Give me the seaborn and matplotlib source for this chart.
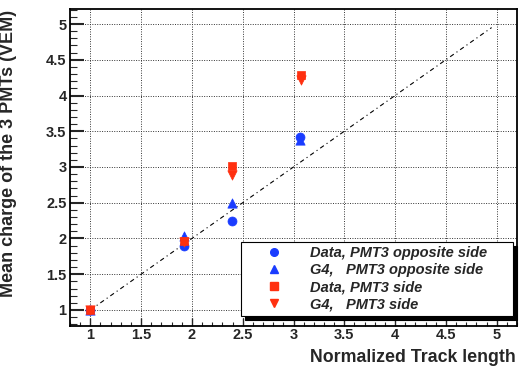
import numpy as np
import pandas as pd
import matplotlib
matplotlib.use("Agg")
import matplotlib.pyplot as plt
import seaborn as sns
from matplotlib.ticker import MultipleLocator

# data
track_len = [1.0, 1.92, 2.39, 3.06]
track_len_side = [1.0, 1.92, 2.39, 3.07]
data_opp = [1.0, 1.89, 2.25, 3.42]
g4_opp = [1.0, 2.03, 2.49, 3.38]
data_side = [1.0, 1.97, 3.02, 4.29]
g4_side = [1.0, 1.95, 2.89, 4.21]
ref_line_x = [1.0, 4.95]
ref_line_y = [1.0, 4.95]
tick_vals = [1, 1.5, 2, 2.5, 3, 3.5, 4, 4.5, 5]
tick_labels = ['1', '1.5', '2', '2.5', '3', '3.5', '4', '4.5', '5']

labels = ["Data, PMT3 opposite side", "G4,   PMT3 opposite side",
          "Data, PMT3 side", "G4,   PMT3 side"]

sns.set_style("ticks")
plt.rcParams['font.family'] = ['Liberation Sans', 'DejaVu Sans']

fig = plt.figure(figsize=(5.2, 3.68), dpi=100)
ax = fig.add_axes([70/520, 1-325.7/368, 447/520, 316.7/368])

blue = '#1a3cff'
red = '#ff3010'

# reference line y = x
sns.lineplot(x=ref_line_x, y=ref_line_y, ax=ax, color='black', lw=0.8,
             linestyle=(0, (4, 3, 1, 3)), zorder=2, legend=False)

series = [
    (track_len, data_opp, 'o', blue, 42),
    (track_len, g4_opp, '^', blue, 45),
    (track_len_side, data_side, 's', red, 36),
    (track_len_side, g4_side, 'v', red, 45),
]
handles = []
for (xs, ys, mk, col, s), lab in zip(series, labels):
    sns.scatterplot(x=xs, y=ys, ax=ax, marker=mk, color=col, s=s,
                    edgecolor=col, linewidth=0.5, zorder=3, legend=False)
    handles.append(plt.Line2D([], [], marker=mk, color=col, linestyle='none',
                              markersize=5.5, markeredgecolor=col))

ax.set_xlim(0.80, 5.2)
ax.set_ylim(0.78, 5.21)
ax.xaxis.set_minor_locator(MultipleLocator(0.1))
ax.yaxis.set_minor_locator(MultipleLocator(0.1))
ax.set_xticks(tick_vals)
ax.set_xticklabels(tick_labels)
ax.set_yticks(tick_vals)
ax.set_yticklabels(tick_labels)

ax.grid(True, which='major', color='0.2', linestyle=(0, (1, 1.5)), lw=0.7)
ax.set_axisbelow(True)

ax.tick_params(axis='y', which='major', direction='in', length=10, width=1.5,
               pad=2.5, labelsize=10.5)
ax.tick_params(axis='y', which='minor', direction='in', length=5, width=0.8)
ax.tick_params(axis='x', which='major', direction='in', length=6, width=1.0,
               pad=2, labelsize=10.5)
ax.tick_params(axis='x', which='minor', direction='in', length=3, width=0.8)
for lab in ax.get_xticklabels() + ax.get_yticklabels():
    lab.set_fontweight('bold')

for sp in ax.spines.values():
    sp.set_visible(True)
    sp.set_color('black')
    sp.set_linewidth(1.3)

ax.set_xlabel('')
ax.set_ylabel('')

leg = ax.legend(handles, labels, loc='lower left',
                bbox_to_anchor=(0.383, 0.031, 0.608, 0.23), mode='expand',
                frameon=True, fancybox=False, borderaxespad=0,
                shadow={'ox': 3, 'oy': -3, 'color': 'black', 'alpha': 1},
                prop={'weight': 'bold', 'style': 'italic', 'size': 10.5},
                handletextpad=0.5, labelspacing=0.22, borderpad=0.3,
                handlelength=3.9, ncol=1)
leg.get_frame().set_edgecolor('black')
leg.get_frame().set_linewidth(0.8)
leg.get_frame().set_facecolor('white')

fig.text(8.5/520, 1-10/368, 'Mean charge of the 3 PMTs (VEM)', rotation=90,
         ha='center', va='top', fontsize=13, fontweight='bold')
fig.text(516/520, 1-357/368, 'Normalized Track length', ha='right',
         va='center', fontsize=12.8, fontweight='bold')

fig.savefig('out.png', dpi=100)
